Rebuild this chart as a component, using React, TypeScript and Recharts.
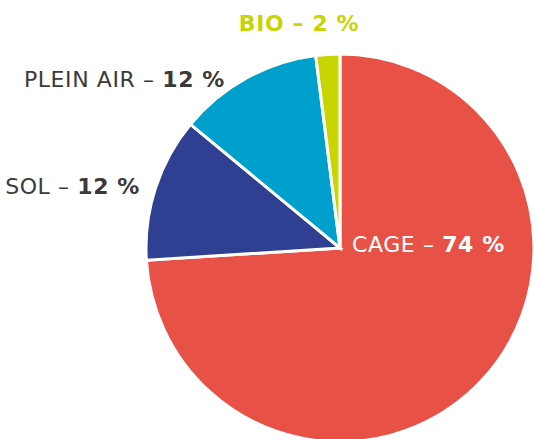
import { Cell, Pie, PieChart } from "recharts";

const categories = ["CAGE", "SOL", "PLEIN AIR", "BIO"];
const shares = [74, 12, 12, 2];
const colors = ["#E85246", "#2F3F92", "#00A0CC", "#C9D500"];

const data = categories.map((name, i) => ({ name, value: shares[i] }));

// label anchors relative to the pie centre
const labelPos: Record<string, { dx: number; dy: number; anchor: "start" | "end" | "middle"; fill: string; allBold?: boolean }> = {
  CAGE: { dx: 12, dy: 4, anchor: "start", fill: "#ffffff" },
  SOL: { dx: -200, dy: -54, anchor: "end", fill: "#3a3a3a" },
  "PLEIN AIR": { dx: -115, dy: -161, anchor: "end", fill: "#3a3a3a" },
  BIO: { dx: -41, dy: -217, anchor: "middle", fill: "#C9D500", allBold: true },
};

function renderLabel(props: any) {
  const { cx, cy, name, value } = props;
  const p = labelPos[name];
  return (
    <text
      x={cx + p.dx}
      y={cy + p.dy}
      textAnchor={p.anchor}
      fill={p.fill}
      fontSize={22}
      letterSpacing={0.6}
      fontFamily="DejaVu Sans, sans-serif"
    >
      <tspan fontWeight={p.allBold ? 700 : 400}>{name} – </tspan>
      <tspan fontWeight={700}>{value} %</tspan>
    </text>
  );
}

export default function App() {
  return (
    <div style={{ position: "absolute", left: 0, top: 0, width: 534, height: 439, background: "#fff" }}>
      <PieChart width={534} height={439} margin={{ top: 0, right: 0, bottom: 0, left: 0 }}>
        <Pie
          data={data}
          dataKey="value"
          nameKey="name"
          cx={340}
          cy={248}
          outerRadius={194}
          startAngle={90}
          endAngle={-270}
          stroke="#ffffff"
          strokeWidth={3}
          label={renderLabel}
          labelLine={false}
          isAnimationActive={false}
        >
          {data.map((d, i) => (
            <Cell key={d.name} fill={colors[i]} />
          ))}
        </Pie>
      </PieChart>
    </div>
  );
}
